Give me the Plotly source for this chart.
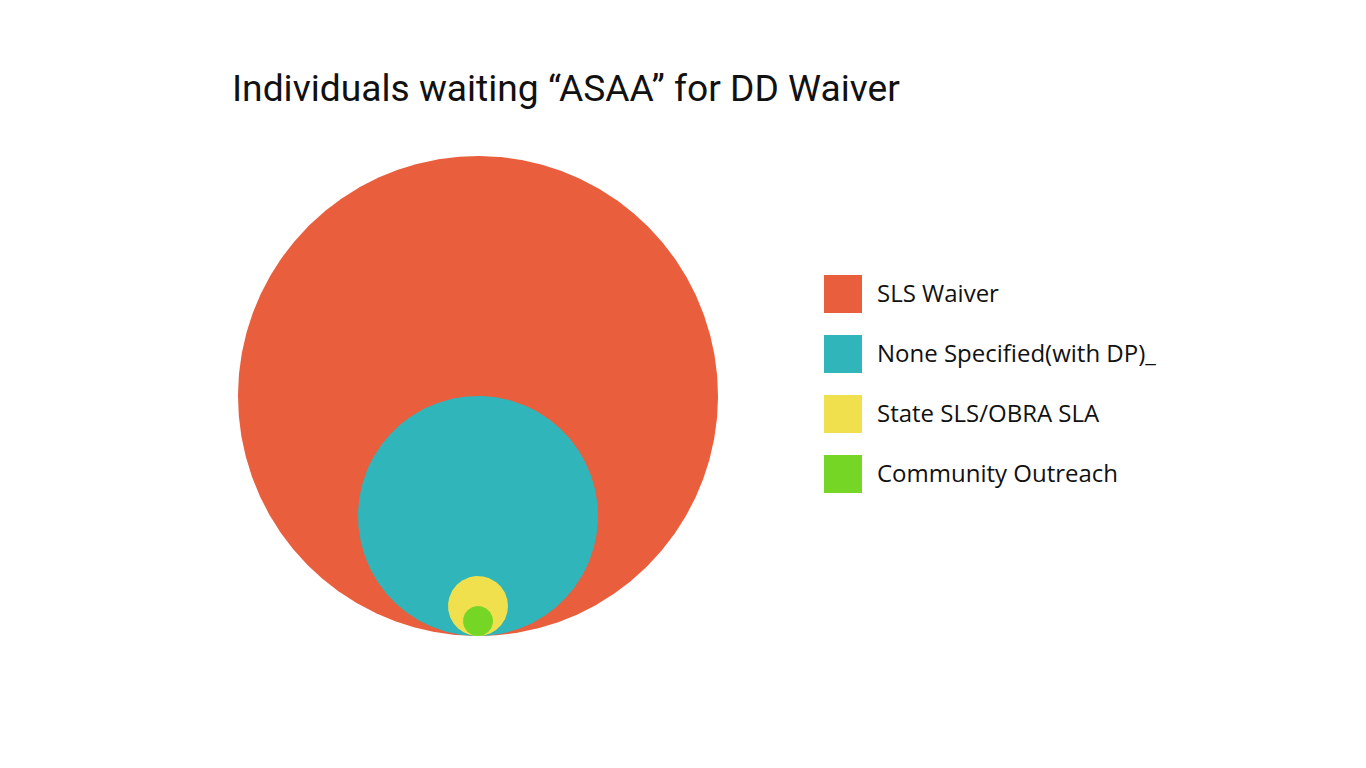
import numpy as np
import plotly.graph_objects as go

categories = ["SLS Waiver", "None Specified(with DP)_", "State SLS/OBRA SLA", "Community Outreach"]
values = [1280, 320, 20, 5]
colors = ["#E95F3E", "#2FB5BA", "#F0E04E", "#76D626"]
title_text = "Individuals waiting “ASAA” for DD Waiver"

OFF = 8  # page body margin
W, H = 1366 - 2 * OFF, 768 - 2 * OFF
L, T = 238 - OFF, 156 - OFF
PW = PH = 480
R_max = np.sqrt(max(values))

fig = go.Figure()
theta = np.linspace(0, 2 * np.pi, 721)
for cat, v, c in zip(categories, values, colors):
    r = np.sqrt(v)
    xs = r * np.cos(theta)
    ys = r + r * np.sin(theta)  # bottom-aligned at y=0
    fig.add_trace(go.Scatter(x=xs, y=ys, mode="lines", fill="toself", fillcolor=c,
                             line=dict(width=0, color=c), name=cat, showlegend=False,
                             hoveron="fills", text=f"{cat}: {v}", hoverinfo="text"))

def px_to_paper_x(px):
    return (px - OFF - L) / PW

def px_to_paper_y(py):
    return (T + PH - (py - OFF)) / PH

shapes = []
annotations = []
for i, (cat, c) in enumerate(zip(categories, colors)):
    top = 275 + 60 * i
    shapes.append(dict(type="rect", xref="paper", yref="paper",
                       x0=px_to_paper_x(824), x1=px_to_paper_x(862),
                       y0=px_to_paper_y(top + 38), y1=px_to_paper_y(top),
                       fillcolor=c, line=dict(width=0)))
    annotations.append(dict(xref="paper", yref="paper", x=px_to_paper_x(875),
                            y=px_to_paper_y(top + 17), xanchor="left", yanchor="middle",
                            text=cat, showarrow=False,
                            font=dict(family="Open Sans", size=24, color="#111111")))

fig.update_layout(
    width=W, height=H,
    margin=dict(l=L, r=W - L - PW, t=T, b=H - T - PH, autoexpand=False),
    paper_bgcolor="white", plot_bgcolor="white",
    xaxis=dict(range=[-R_max, R_max], visible=False, fixedrange=True),
    yaxis=dict(range=[0, 2 * R_max], visible=False, fixedrange=True),
    shapes=shapes, annotations=annotations,
    title=dict(text=title_text, x=(232 - OFF) / W, xref="container", xanchor="left",
               y=1 - (88 - OFF) / H, yref="container", yanchor="middle",
               font=dict(family="Roboto", size=37.2, color="#111111")),
    showlegend=False,
)

fig.write_html("out.html")
